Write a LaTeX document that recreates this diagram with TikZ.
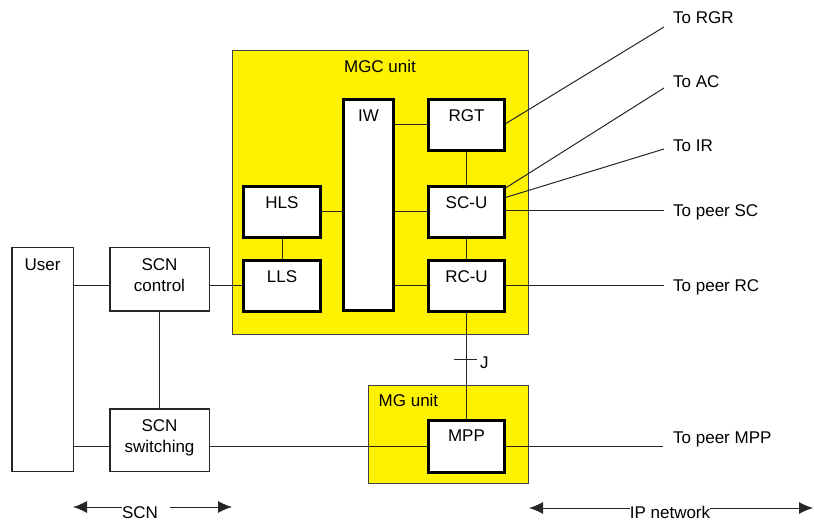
\documentclass[tikz,border=0pt]{standalone}
\usepackage{fontspec}
\setmainfont{Liberation Sans}
\usetikzlibrary{arrows.meta}
\begin{document}
\begin{tikzpicture}[x=1pt,y=-1pt,
  font=\fontsize{17}{21}\selectfont,
  thickbox/.style={draw=black, line width=2.2pt, fill=white, inner sep=0pt},
  thinbox/.style={draw=black!85, line width=1pt, fill=white, inner sep=0pt},
  unitbox/.style={draw=black!75, line width=1pt, fill=yellow, inner sep=0pt},
  conn/.style={draw=black!85, line width=1pt},
  toplabel/.style={anchor=north, inner sep=0pt, align=center, yshift=-11pt},
  txt/.style={inner sep=0pt},
  arr/.style={conn, -{Latex[length=14pt,width=12pt]}}
]
\useasboundingbox (0,0) rectangle (814,521);
% units
\node[unitbox, minimum width=296pt, minimum height=284pt] (mgc) at (380,193) {};
\node[unitbox, minimum width=160pt, minimum height=98pt] (mg) at (448,434) {};
% boxes
\node[thinbox, minimum width=61pt, minimum height=223pt] (user) at (42.5,359.5) {};
\node[thinbox, minimum width=99pt, minimum height=63pt] (ctrl) at (159.5,279.5) {};
\node[thinbox, minimum width=99pt, minimum height=62pt] (sw) at (159.5,440) {};
\node[thickbox, minimum width=49pt, minimum height=210pt] (iw) at (368.5,205) {};
\node[thickbox, minimum width=75pt, minimum height=50pt] (rgt) at (466.5,125) {};
\node[thickbox, minimum width=75pt, minimum height=50pt] (scu) at (466.5,212) {};
\node[thickbox, minimum width=75pt, minimum height=50pt] (rcu) at (466.5,286) {};
\node[thickbox, minimum width=76pt, minimum height=50pt] (hls) at (282,212) {};
\node[thickbox, minimum width=76pt, minimum height=50pt] (lls) at (282,286) {};
\node[thickbox, minimum width=75pt, minimum height=51pt] (mpp) at (466.5,446.5) {};
% free ends
\coordinate (eRGR) at (664,27);
\coordinate (eAC) at (664,88);
\coordinate (eIR) at (664,149);
\coordinate (eSC) at (664,211);
\coordinate (eRC) at (664,286);
\coordinate (eMPP) at (663,446);
\coordinate (tickL) at (454,359);
\coordinate (tickR) at (477,359);
% connectors
\draw[conn] (user.east |- lls.west) -- (ctrl.west |- lls.west);
\draw[conn] (ctrl.east |- lls.west) -- (lls.west);
\draw[conn] (ctrl.south) -- (sw.north);
\draw[conn] (user.east |- mpp.west) -- (sw.west |- mpp.west);
\draw[conn] (sw.east |- mpp.west) -- (mpp.west);
\draw[conn] (mpp.east |- eMPP) -- (eMPP);
\draw[conn] (rcu.south) -- (mpp.north);
\draw[conn] (tickL) -- (tickR);
\draw[conn] (iw.east |- rgt.west) -- (rgt.west);
\draw[conn] (rgt.south) -- (scu.north);
\draw[conn] (scu.south) -- (rcu.north);
\draw[conn] (hls.east) -- (iw.west |- hls.east);
\draw[conn] (iw.east |- scu.west) -- (scu.west);
\draw[conn] (hls.south) -- (lls.north);
\draw[conn] (iw.east |- rcu.west) -- (rcu.west);
\draw[conn] ([yshift=1pt]rgt.east) -- (eRGR);
\draw[conn] ([xshift=-1pt,yshift=-3pt]scu.north east) -- (eAC);
\draw[conn] ([xshift=-1pt,yshift=-12pt]scu.north east) -- (eIR);
\draw[conn] (scu.east |- eSC) -- (eSC);
\draw[conn] (rcu.east) -- (eRC);
% box borders on top of connectors
\foreach \n in {user,ctrl,sw}{\draw[draw=black!85, line width=1pt] (\n.north west) rectangle (\n.south east);}
\foreach \n in {iw,rgt,scu,rcu,hls,lls,mpp}{\draw[draw=black, line width=2.2pt] (\n.north west) rectangle (\n.south east);}
% labels
\node[txt] (mgcT) at ([yshift=-16pt]mgc.north) {MGC unit};
\node[txt, anchor=west] (mgT) at ([xshift=11pt,yshift=-16pt]mg.north west) {MG unit};
\node[toplabel] (userT) at (user.north) {User};
\node[toplabel] (ctrlT) at (ctrl.north) {SCN\\control};
\node[toplabel] (swT) at (sw.north) {SCN\\switching};
\node[toplabel] (iwT) at (iw.north) {IW};
\node[toplabel] (rgtT) at (rgt.north) {RGT};
\node[toplabel] (scuT) at (scu.north) {SC-U};
\node[toplabel] (rcuT) at (rcu.north) {RC-U};
\node[toplabel] (hlsT) at (hls.north) {HLS};
\node[toplabel] (llsT) at (lls.north) {LLS};
\node[toplabel, yshift=1pt] (mppT) at (mpp.north) {MPP};
\node[txt, anchor=west] (jT) at (480,363) {J};
\node[txt, anchor=base west] (tRGR) at (673,24) {To RGR};
\node[txt, anchor=base west] (tAC) at (673,88) {To AC};
\node[txt, anchor=base west] (tIR) at (673,152) {To IR};
\node[txt, anchor=base west] (tSC) at (673,217) {To peer SC};
\node[txt, anchor=base west] (tRC) at (673,292) {To peer RC};
\node[txt, anchor=base west] (tMPP) at (673,443) {To peer MPP};
% bottom arrows
\node[txt, anchor=base] (scnT) at (140,518) {SCN};
\node[txt, anchor=base] (ipT) at (670,518) {IP network};
\coordinate (scnL) at (73,507);
\coordinate (scnR) at (232,507);
\coordinate (scnRs) at (170,507);
\coordinate (ipL) at (529,508);
\coordinate (ipR) at (813,508);
\draw[arr] (scnT.west |- scnL) -- (scnL);
\draw[arr] (scnRs) -- (scnR);
\draw[arr] (ipT.west |- ipL) -- (ipL);
\draw[arr] (ipT.east |- ipR) -- (ipR);
\end{tikzpicture}
\end{document}
